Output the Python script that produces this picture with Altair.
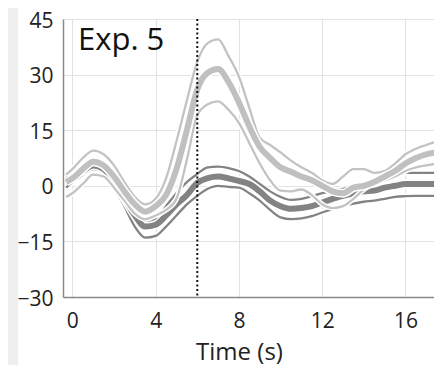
import altair as alt
import pandas as pd

t = [-0.3, 0, 0.5, 1, 1.5, 2, 2.5, 3, 3.5, 4, 4.5, 5, 5.5, 6, 6.5, 7, 7.5, 8, 8.5, 9,
     9.5, 10, 10.5, 11, 11.5, 12, 12.5, 13, 13.5, 14, 14.5, 15, 15.5, 16, 16.5, 17, 17.5]

light_upper = [3, 4.5, 7.5, 9.5, 8.5, 5.5, 1, -3, -5, -3.5, 2, 12, 23, 33.5, 38.5, 39.5, 35, 29.5, 21, 13,
               11, 9, 6.8, 5, 3.5, 1.5, 0.5, 2.5, 4.5, 4.5, 3.5, 4, 6, 8.5, 10, 11, 12]
light_mean = [1, 2, 4.5, 6.5, 5.5, 2.5, -1.5, -5, -7, -5.5, -2.5, 4.5, 15, 26, 30.5, 31.5, 28, 22.5, 16, 10.5,
              7.5, 5, 3.8, 2.5, 1.5, 0, -1.5, -2, -0.5, 0, 1, 2.5, 4, 6, 7.5, 8.5, 9]
light_lower = [-3, -2, 0.5, 3, 2.5, -0.5, -4, -7.5, -9, -8, -6.5, -3.5, 7, 19, 22, 22.8, 20.5, 17, 11.5, 6,
               1.5, -1.3, -1.5, -1, -2.5, -5, -6, -5.5, -3.5, -1, 0.5, 1.5, 2.5, 4, 5, 5.5, 6]
dark_upper = [2.5, 3.5, 5, 6, 5, 2, -2, -6.5, -9.5, -9, -5.5, -2, 1, 3.2, 5, 5.2, 4.8, 4, 2.5, 0.5,
              -1.5, -3, -3.8, -3.5, -2.8, -2, -1.5, -0.8, 0, 0.3, 0.5, 1.5, 2.5, 3.5, 3.5, 3.5, 3.5]
dark_mean = [1.5, 2.5, 4, 5.5, 4.5, 1, -3.5, -8, -11, -10.5, -8, -5, -2.5, 0.8, 2.1, 2.5, 2, 1.3, 0.5, -1.5,
             -4, -5.5, -6.2, -6, -5.5, -4.5, -3.5, -2.7, -2, -1.5, -1.3, -0.5, 0, 0.5, 0.5, 0.5, 0.5]
dark_lower = [-0.5, 1, 3, 4.5, 3.5, -0.5, -5.5, -11, -14, -13.5, -11, -8, -5, -2.7, -0.8, 0, -0.3, -0.5, -2, -4,
              -6.5, -8.5, -9, -8.8, -8.2, -7.2, -6.2, -5.4, -4.8, -4.3, -4, -3.5, -3, -2.8, -2.7, -2.7, -2.7]

x_ticks = [0, 4, 8, 12, 16]
y_ticks = [-30, -15, 0, 15, 30, 45]
onset = [6]
panel_label = ["Exp. 5"]

series = [
    ("dark_lower", dark_lower, "#838383", 2.3),
    ("dark_upper", dark_upper, "#838383", 2.3),
    ("dark_mean", dark_mean, "#838383", 6),
    ("light_lower", light_lower, "#c3c3c3", 2.3),
    ("light_upper", light_upper, "#c3c3c3", 2.3),
    ("light_mean", light_mean, "#c0c0c0", 6),
]

rows = []
for name, vals, _, _ in series:
    for ti, v in zip(t, vals):
        rows.append({"t": ti, "v": v, "s": name})
df = pd.DataFrame(rows)

xs = alt.Scale(domain=[-0.45, 17.37], nice=False, zero=False)
ys = alt.Scale(domain=[-30, 45], nice=False, zero=False)

xax = alt.Axis(values=x_ticks, ticks=False, tickSize=0, grid=True, gridColor="#e2e2e2",
               domainColor="#8a8a8a", domainWidth=1.5, labelFont="Open Sans", labelFontSize=21,
               labelColor="#222222", labelPadding=13, title="Time (s)", titleFont="Open Sans",
               titleFontSize=24, titleFontWeight="normal", titleColor="#222222",
               titleX=176, titleY=62, titleBaseline="alphabetic", titleAlign="center")
yax = alt.Axis(values=y_ticks, ticks=False, tickSize=0, grid=True, gridColor="#e2e2e2",
               domainColor="#8a8a8a", domainWidth=1.5, labelFont="Open Sans", labelFontSize=21,
               labelColor="#222222", labelPadding=10, labelOffset=2, title=None)

base = alt.Chart(df)

strip = alt.Chart(pd.DataFrame({"k": [0]})).mark_rect(color="#efefef").encode(
    x=alt.value(-55), x2=alt.value(-45), y=alt.value(-11), y2=alt.value(346))

axes_layer = alt.Chart(pd.DataFrame({"t": [0], "v": [0]})).mark_point(opacity=0).encode(
    x=alt.X("t:Q", scale=xs, axis=xax), y=alt.Y("v:Q", scale=ys, axis=yax))

layers = [strip, axes_layer]
for name, vals, color, w in series:
    halo = base.transform_filter(alt.datum.s == name).mark_line(
        color="white", strokeWidth=w + 3, interpolate="monotone", clip=True).encode(
        x=alt.X("t:Q", scale=xs), y=alt.Y("v:Q", scale=ys))
    line = base.transform_filter(alt.datum.s == name).mark_line(
        color=color, strokeWidth=w, interpolate="monotone", clip=True).encode(
        x=alt.X("t:Q", scale=xs), y=alt.Y("v:Q", scale=ys))
    layers += [halo, line]

rule = alt.Chart(pd.DataFrame({"t": onset})).mark_rule(
    color="#111111", strokeWidth=2, strokeDash=[2, 2.5]).encode(x=alt.X("t:Q", scale=xs))

label = alt.Chart(pd.DataFrame({"txt": panel_label})).mark_text(
    align="left", baseline="alphabetic", font="Open Sans", fontSize=31, color="#111111").encode(
    x=alt.value(15), y=alt.value(31), text="txt:N")

layers += [rule, label]

chart = alt.layer(*layers).properties(
    width=371, height=278,
    autosize=alt.AutoSizeParams(type="none"),
    padding={"left": 55, "top": 11, "right": 0, "bottom": 68},
).configure_view(stroke=None).configure(background="white")

chart.save("out.html", embed_options={"renderer": "svg", "actions": False})
